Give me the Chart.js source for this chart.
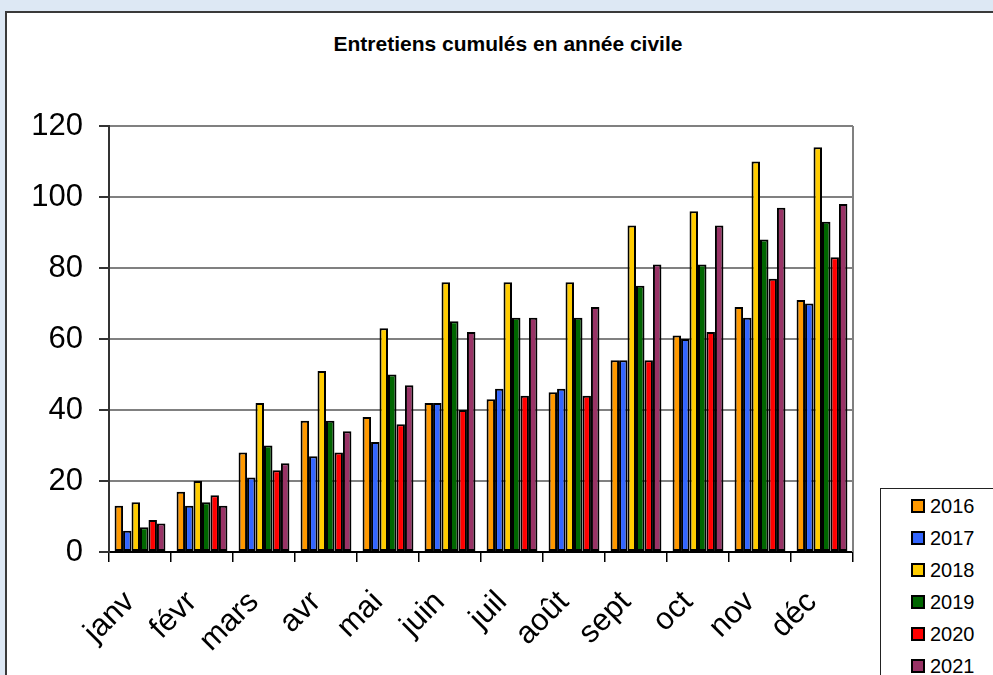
<!DOCTYPE html>
<html>
<head>
<meta charset="utf-8">
<script src="https://cdn.jsdelivr.net/npm/chart.js@4"></script>
<style>
  html, body { margin:0; padding:0; }
  body { width:993px; height:675px; background:#dde8f4; position:relative; overflow:hidden; font-family:'Liberation Sans', Arial, sans-serif; }
  #panel { position:absolute; left:5px; top:11px; width:1100px; height:800px; background:#fff; border:2px solid #3a3a3a; box-sizing:border-box; }
  #title { position:absolute; left:0; width:1016px; top:32px; text-align:center; font-weight:bold; font-size:21px; color:#000; }
  #wrap { position:absolute; left:0; top:0; width:993px; height:675px; }
  #legend { position:absolute; left:880px; top:488px; width:200px; height:300px; border:1.5px solid #222; background:#fff; box-sizing:border-box; }
  .item { position:absolute; left:30px; height:24px; font-size:20px; line-height:24px; color:#000; }
  .sw { display:inline-block; width:14px; height:14px; border:2px solid #000; box-sizing:border-box; vertical-align:middle; margin-right:5px; position:relative; top:-2px; }
</style>
</head>
<body>
<div id="panel"></div>
<div id="title">Entretiens cumulés en année civile</div>
<div id="wrap"><canvas id="c" width="993" height="675"></canvas></div>
<div id="legend"></div>
<script>
const months = ['janv','févr','mars','avr','mai','juin','juil','août','sept','oct','nov','déc'];
const seriesNames = ['2016','2017','2018','2019','2020','2021'];
const seriesColors = ['#FF9900','#3366FF','#FFCC00','#006600','#FF0000','#993366'];
const v2016 = [13,17,28,37,38,42,43,45,54,61,69,71];
const v2017 = [6,13,21,27,31,42,46,46,54,60,66,70];
const v2018 = [14,20,42,51,63,76,76,76,92,96,110,114];
const v2019 = [7,14,30,37,50,65,66,66,75,81,88,93];
const v2020 = [9,16,23,28,36,40,44,44,54,62,77,83];
const v2021 = [8,13,25,34,47,62,66,69,81,92,97,98];
const yTicks = [0,20,40,60,80,100,120];
const seriesValues = [v2016,v2017,v2018,v2019,v2020,v2021];

const datasets = seriesNames.map((n,i)=>({
  label:n, data:seriesValues[i], backgroundColor:seriesColors[i],
  borderColor:'#000', borderWidth:2, borderSkipped:false,
  categoryPercentage:0.82, barPercentage:1.0
}));

// HTML legend
const lg = document.getElementById('legend');
seriesNames.forEach((n,i)=>{
  const d = document.createElement('div');
  d.className='item';
  d.style.top = (5 + i*32) + 'px';
  d.innerHTML = '<span class="sw" style="background:'+seriesColors[i]+'"></span>'+n;
  lg.appendChild(d);
});

const frame = {
  id:'frame',
  afterDraw(chart){
    const {ctx, chartArea:a} = chart;
    ctx.save();
    ctx.strokeStyle='#808080'; ctx.lineWidth=2;
    ctx.beginPath(); ctx.moveTo(a.right, a.top); ctx.lineTo(a.right, a.bottom); ctx.stroke();
    ctx.restore();
  }
};

new Chart(document.getElementById('c'), {
  type:'bar',
  data:{ labels:months, datasets },
  plugins:[frame],
  options:{
    responsive:false, animation:false,
    layout:{ padding:{ left:0, top:126, right:140, bottom:0 } },
    plugins:{ legend:{display:false}, title:{display:false}, tooltip:{enabled:false} },
    scales:{
      x:{
        grid:{ offset:true, drawOnChartArea:false, tickLength:10, color:'#000', lineWidth:1.5 },
        border:{ color:'#000', width:2 },
        ticks:{ color:'#000', font:{ family:"'Liberation Sans', Arial", size:31 }, minRotation:45, maxRotation:45, padding:22, labelOffset:-10 },
        afterFit(s){ s.height = 123; }
      },
      y:{
        min:0, max:120,
        afterBuildTicks(s){ s.ticks = yTicks.map(v=>({value:v})); },
        grid:{ color:'#808080', lineWidth:2, tickLength:10, tickColor:'#333' },
        border:{ color:'#333', width:2 },
        ticks:{ color:'#000', font:{ family:"'Liberation Sans', Arial", size:31 }, padding:16 },
        afterFit(s){ s.width = 109; }
      }
    }
  }
});
</script>
</body>
</html>
